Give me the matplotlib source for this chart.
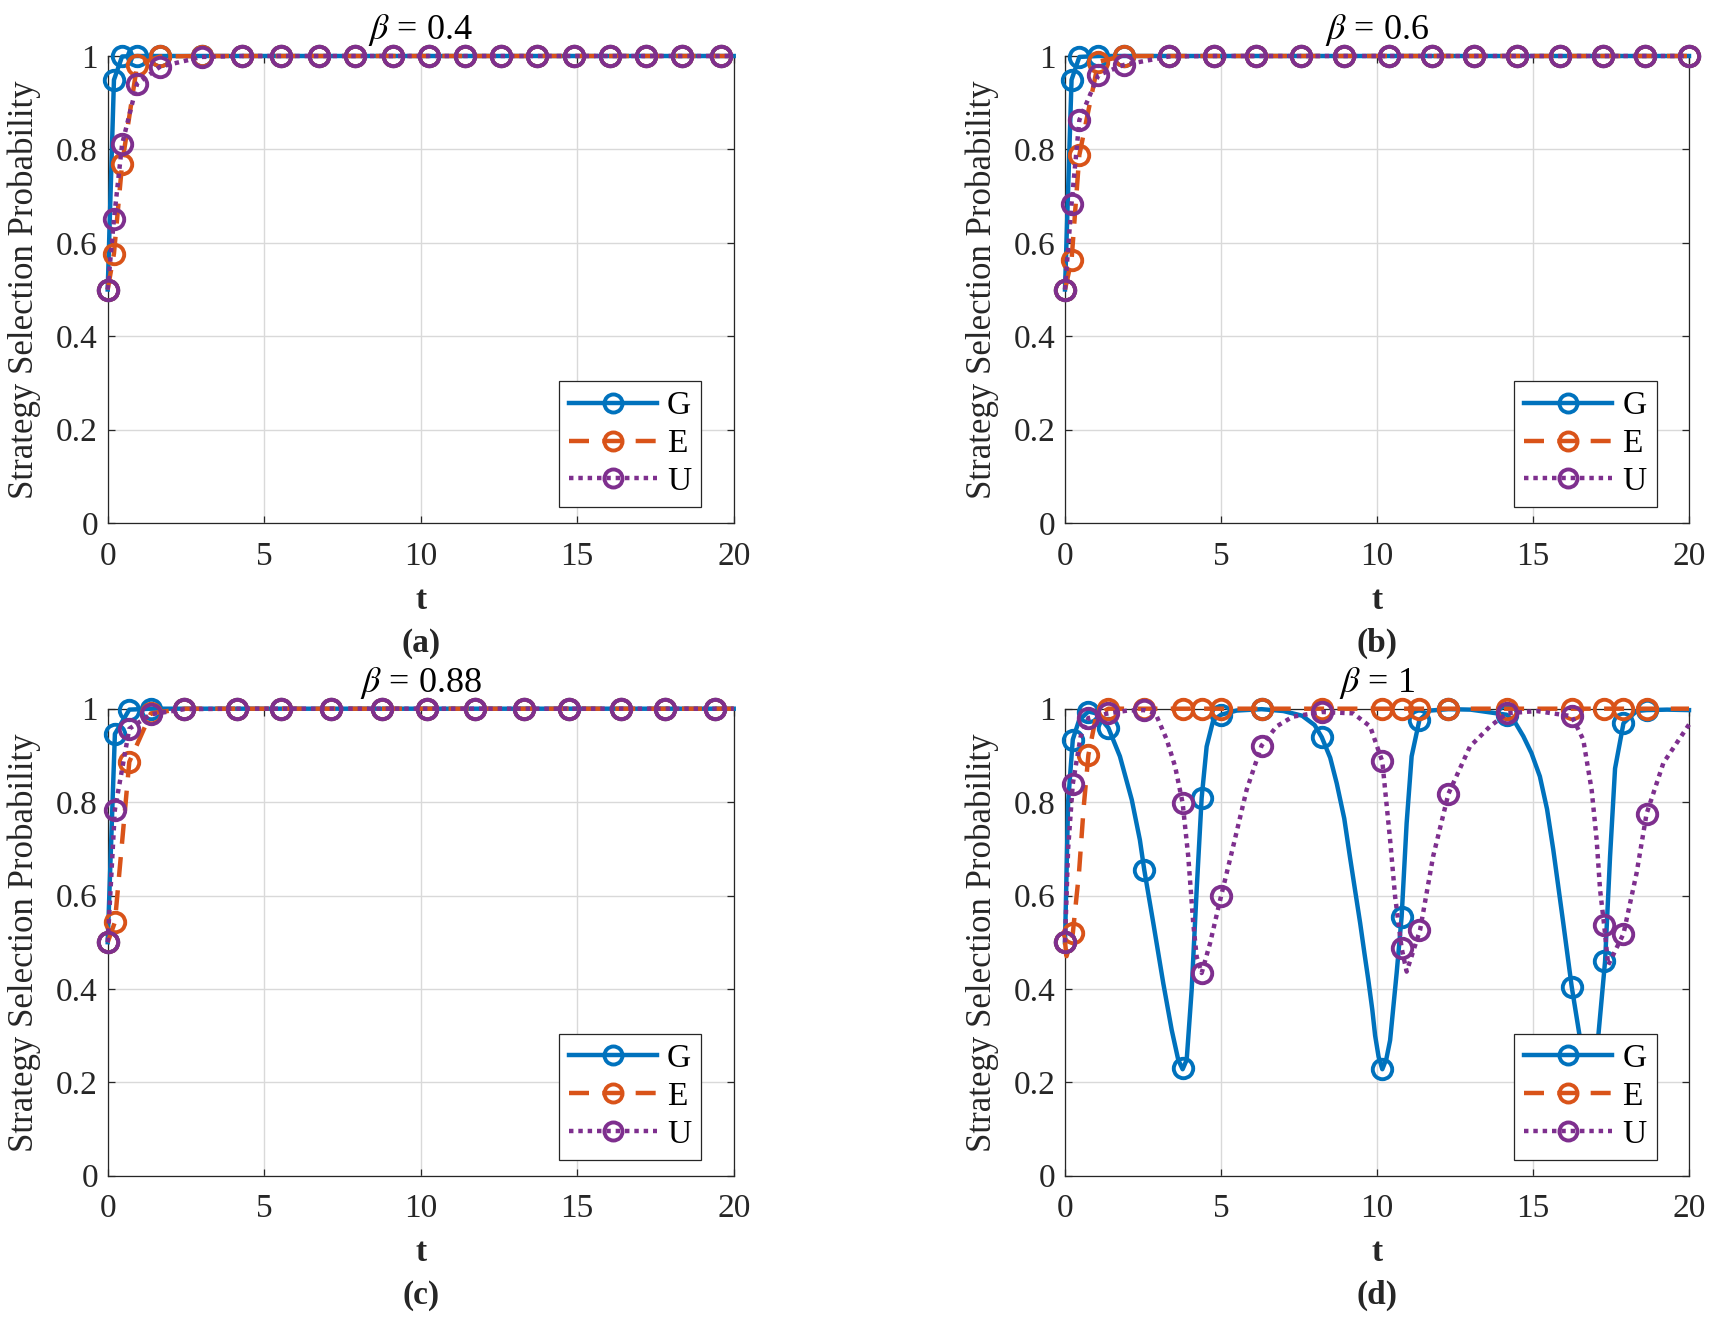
import matplotlib
matplotlib.use("Agg")
import matplotlib.pyplot as plt
from matplotlib.lines import Line2D

plt.rcParams['font.family'] = ['Liberation Serif', 'DejaVu Serif']
plt.rcParams['mathtext.fontset'] = 'stix'

# ---------------- data ----------------
# panel (a) beta = 0.4
tA = [0, 0.2, 0.46, 0.94, 1.67, 3.0, 4.28, 5.55, 6.75, 7.9, 9.1, 10.25, 11.42, 12.55, 13.7, 14.9, 16.05, 17.2, 18.35, 19.6]
GA = [0.5, 0.949, 0.999, 1, 1, 1, 1, 1, 1, 1, 1, 1, 1, 1, 1, 1, 1, 1, 1, 1]
EA = [0.5, 0.577, 0.769, 0.981, 0.999, 1, 1, 1, 1, 1, 1, 1, 1, 1, 1, 1, 1, 1, 1, 1]
UA = [0.5, 0.651, 0.811, 0.941, 0.977, 0.998, 1, 1, 1, 1, 1, 1, 1, 1, 1, 1, 1, 1, 1, 1]

# panel (b) beta = 0.6
tB = [0, 0.21, 0.46, 1.07, 1.89, 3.33, 4.78, 6.12, 7.55, 8.95, 10.37, 11.75, 13.1, 14.48, 15.87, 17.23, 18.6, 20.0]
GB = [0.5, 0.949, 0.998, 1, 1, 1, 1, 1, 1, 1, 1, 1, 1, 1, 1, 1, 1, 1]
EB = [0.5, 0.563, 0.788, 0.988, 1, 1, 1, 1, 1, 1, 1, 1, 1, 1, 1, 1, 1, 1]
UB = [0.5, 0.684, 0.863, 0.959, 0.981, 0.999, 1, 1, 1, 1, 1, 1, 1, 1, 1, 1, 1, 1]

# panel (c) beta = 0.88
tC = [0, 0.23, 0.69, 1.38, 2.45, 4.13, 5.55, 7.15, 8.77, 10.2, 11.75, 13.3, 14.75, 16.4, 17.82, 19.4]
GC = [0.5, 0.946, 0.998, 1, 1, 1, 1, 1, 1, 1, 1, 1, 1, 1, 1, 1]
EC = [0.5, 0.543, 0.886, 0.99, 1, 1, 1, 1, 1, 1, 1, 1, 1, 1, 1, 1]
UC = [0.5, 0.784, 0.957, 0.988, 0.999, 1, 1, 1, 1, 1, 1, 1, 1, 1, 1, 1]

# panel (d) beta = 1 : marker points
tD = [0, 0.25, 0.75, 1.39, 2.54, 3.77, 4.38, 5.0, 6.30, 8.23, 10.17, 10.79, 11.36, 12.29, 14.16, 16.24, 17.28, 17.9, 18.64]
GD = [0.5, 0.934, 0.994, 0.959, 0.655, 0.230, 0.809, 0.987, 0.999, 0.939, 0.228, 0.555, 0.976, 0.999, 0.987, 0.405, 0.459, 0.969, 0.997]
ED = [0.5, 0.519, 0.901, 1, 1, 1, 1, 1, 1, 1, 1, 1, 1, 1, 1, 1, 1, 1, 1]
UD = [0.5, 0.839, 0.98, 0.99, 0.997, 0.798, 0.434, 0.598, 0.921, 0.993, 0.887, 0.487, 0.526, 0.818, 0.99, 0.984, 0.537, 0.518, 0.775]

# panel (d) curves
tGd = [0, 0.1, 0.25, 0.45, 0.75, 1.0, 1.39, 1.76, 2.14, 2.40, 2.54, 2.83, 3.15, 3.42, 3.63, 3.77, 3.90, 4.06,
       4.22, 4.38, 4.54, 4.75, 5.0, 5.5, 6.3, 7.0, 7.6, 8.0, 8.23, 8.5, 8.71, 8.95, 9.13, 9.3, 9.46, 9.6, 9.72,
       9.85, 9.94, 10.05, 10.17, 10.3, 10.42, 10.63, 10.79, 10.95, 11.11, 11.36, 11.7, 12.29, 13.0, 14.16, 14.45,
       14.69, 14.95, 15.22, 15.45, 15.65, 15.97, 16.24, 16.5, 16.7, 16.85, 17.0, 17.09, 17.31, 17.47, 17.63, 17.9,
       18.32, 18.64, 19.3, 20]
Gd = [0.5, 0.8, 0.934, 0.975, 0.994, 0.99, 0.959, 0.898, 0.805, 0.719, 0.655, 0.541, 0.412, 0.312, 0.248, 0.228,
      0.248, 0.398, 0.612, 0.809, 0.919, 0.975, 0.987, 0.996, 0.999, 0.995, 0.985, 0.965, 0.939, 0.895, 0.84,
      0.765, 0.684, 0.61, 0.541, 0.475, 0.42, 0.355, 0.30, 0.255, 0.228, 0.25, 0.29, 0.434, 0.555, 0.755, 0.898,
      0.976, 0.996, 0.999, 0.998, 0.987, 0.968, 0.941, 0.905, 0.855, 0.785, 0.698, 0.541, 0.405, 0.297, 0.25, 0.23,
      0.245, 0.297, 0.459, 0.684, 0.872, 0.969, 0.995, 0.997, 0.998, 0.997]
tEd = [0, 0.05, 0.25, 0.45, 0.6, 0.75, 1.0, 1.39, 20]
Ed = [0.5, 0.47, 0.519, 0.65, 0.79, 0.901, 0.985, 1.0, 1.0]
tUd = [0, 0.1, 0.25, 0.5, 0.75, 1.39, 2.0, 2.54, 2.9, 3.26, 3.53, 3.77, 3.95, 4.11, 4.22, 4.38, 4.65, 5.0, 5.39,
       5.82, 6.30, 6.78, 7.3, 8.23, 9.24, 9.78, 10.17, 10.42, 10.58, 10.79, 10.95, 11.38, 11.8, 12.29, 12.98,
       13.62, 14.16, 15.12, 16.24, 16.61, 16.88, 17.04, 17.15, 17.28, 17.41, 17.9, 18.32, 18.64, 19.18, 20]
Ud = [0.5, 0.7, 0.839, 0.94, 0.98, 0.99, 0.996, 0.997, 0.99, 0.934, 0.876, 0.798, 0.684, 0.541, 0.469, 0.434,
      0.498, 0.598, 0.705, 0.826, 0.921, 0.962, 0.983, 0.993, 0.99, 0.962, 0.887, 0.719, 0.598, 0.487, 0.437,
      0.526, 0.684, 0.818, 0.919, 0.962, 0.99, 0.995, 0.984, 0.934, 0.826, 0.719, 0.612, 0.537, 0.451, 0.518,
      0.648, 0.775, 0.884, 0.966]

T_END = 20
titles = [r'$\beta$ = 0.4', r'$\beta$ = 0.6', r'$\beta$ = 0.88', r'$\beta$ = 1']
sublabels = ['(a)', '(b)', '(c)', '(d)']
names = ['G', 'E', 'U']
colors = ['#0072BD', '#D95319', '#7E2F8E']
styles = ['-', (0, (4.5, 3)), (0, (1, 1.1))]
ylabel = 'Strategy Selection Probability'

LW = 3.2
MS = 14
MEW = 2.8
FS = 24
AXC = '#262626'

fig = plt.figure(figsize=(17.18, 13.31), dpi=100)
W, H = 1718, 1331
pos = [
    [107.7 / W, 1 - 523 / H, 626 / W, 467 / H],
    [1065 / W, 1 - 523 / H, 624 / W, 467 / H],
    [107.7 / W, 1 - 1175.7 / H, 626 / W, 467 / H],
    [1065 / W, 1 - 1175.7 / H, 624 / W, 467 / H],
]


def style_axes(ax, title, sub):
    ax.set_xlim(0, 20)
    ax.set_ylim(0, 1)
    ax.set_xticks([0, 5, 10, 15, 20])
    ax.set_yticks([0, 0.2, 0.4, 0.6, 0.8, 1])
    ax.set_yticklabels(['0', '0.2', '0.4', '0.6', '0.8', '1'])
    ax.grid(True, color='#d9d9d9', linewidth=1.0)
    ax.set_axisbelow(True)
    for s in ax.spines.values():
        s.set_color(AXC)
        s.set_linewidth(0.9)
    ax.tick_params(direction='in', length=5, width=0.9, colors=AXC, labelsize=FS,
                   top=True, right=True)
    ax.tick_params(axis='y', pad=7)
    ax.tick_params(axis='x', pad=13)
    ax.set_title(title, fontsize=26, pad=12)
    ax.set_ylabel(ylabel, fontsize=25, color=AXC)
    ax.yaxis.set_label_coords(-0.106, 0.5)
    ax.text(0.5, -0.165, 't', transform=ax.transAxes, ha='center', va='center',
            fontsize=FS, fontweight='bold', color=AXC)
    ax.text(0.5, -0.257, sub, transform=ax.transAxes, ha='center', va='center',
            fontsize=FS, fontweight='bold', color=AXC)
    handles = [Line2D([], [], color=c, linestyle=ls, linewidth=LW, marker='o',
                      markersize=MS - 1, markerfacecolor='none', markeredgewidth=MEW)
               for c, ls in zip(colors, styles)]
    leg = ax.legend(handles, names, loc='lower right', bbox_to_anchor=(0.948, 0.034),
                    borderaxespad=0, fontsize=FS, handlelength=2.65, handletextpad=0.3,
                    labelspacing=0.22, borderpad=0.3, fancybox=False, framealpha=1,
                    edgecolor=AXC, numpoints=1)
    leg.get_frame().set_linewidth(0.9)
    leg.set_zorder(10)


def plot_simple(ax, t, series):
    for y, c, ls in zip(series, colors, styles):
        tt = list(t)
        yy = list(y)
        if tt[-1] < T_END:
            tt.append(T_END)
            yy.append(yy[-1])
        ax.plot(tt, yy, color=c, linestyle=ls, linewidth=LW, clip_on=False, zorder=3)
        ax.plot(t, y, color=c, linestyle='none', marker='o', markersize=MS,
                markerfacecolor='none', markeredgewidth=MEW, clip_on=False, zorder=3)


axes = [fig.add_axes(p) for p in pos]
plot_simple(axes[0], tA, [GA, EA, UA])
plot_simple(axes[1], tB, [GB, EB, UB])
plot_simple(axes[2], tC, [GC, EC, UC])

axD = axes[3]
for (tl, yl), ym, c, ls in zip([(tGd, Gd), (tEd, Ed), (tUd, Ud)], [GD, ED, UD], colors, styles):
    axD.plot(tl, yl, color=c, linestyle=ls, linewidth=LW, clip_on=False, zorder=3)
    axD.plot(tD, ym, color=c, linestyle='none', marker='o', markersize=MS,
             markerfacecolor='none', markeredgewidth=MEW, clip_on=False, zorder=3)

for ax, ttl, sub in zip(axes, titles, sublabels):
    style_axes(ax, ttl, sub)

fig.savefig('out.png', dpi=100)
